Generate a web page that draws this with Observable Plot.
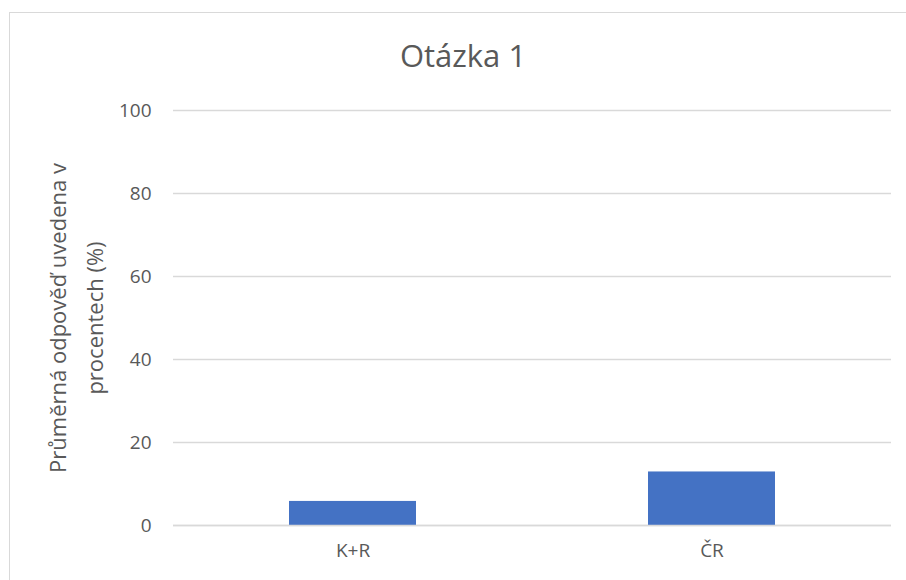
<!DOCTYPE html>
<html><head><meta charset="utf-8">
<script src="https://cdn.jsdelivr.net/npm/d3@7"></script>
<script src="https://cdn.jsdelivr.net/npm/@observablehq/plot@0.6"></script>
<style>
html,body{margin:0;padding:0;background:#fff;overflow:hidden;width:906px;height:580px;}
#frame{position:absolute;left:9px;top:12px;width:1000px;height:1000px;border:1px solid #d9d9d9;box-sizing:border-box;}
#title{position:absolute;left:0;width:926px;top:34px;text-align:center;font-family:"Open Sans",sans-serif;font-size:31px;color:#595959;line-height:normal;}
#chart{position:absolute;left:0;top:0;}
</style></head>
<body>
<div id="frame"></div>
<div id="title">Otázka 1</div>
<div id="chart"></div>
<script>
const categories = ["K+R", "ČR"];
const values = [5.8, 12.9];
const yTicks = [0, 20, 40, 60, 80, 100];
const yLabelLines = ["Průměrná odpověď uvedena v", "procentech (%)"];

const data = categories.map((c, i) => ({cat: c, val: values[i]}));
const font = "'Open Sans', sans-serif";
const chart = Plot.plot({
  width: 906, height: 580,
  marginLeft: 173, marginRight: 15, marginTop: 110, marginBottom: 55,
  style: {fontFamily: font, color: "#595959", background: "transparent"},
  x: {domain: categories, paddingInner: 0.646, paddingOuter: 0.323},
  y: {domain: [0, 100]},
  marks: [
    Plot.gridY(yTicks, {stroke: "#d9d9d9", strokeOpacity: 1, strokeWidth: 1.5}),
    Plot.barY(data, {x: "cat", y: "val", fill: "#4472c4"}),
    Plot.ruleY([0], {stroke: "#d9d9d9", strokeWidth: 1.5}),
    Plot.axisY(yTicks, {tickSize: 0, tickPadding: 22, fontSize: 19, fill: "#595959", label: null}),
    Plot.axisX({tickSize: 0, tickPadding: 18, fontSize: 19, fill: "#595959", label: null}),
    Plot.text([yLabelLines[0]], {frameAnchor: "left", text: d => d, rotate: -90, dx: -115, fontSize: 22, fill: "#595959", textAnchor: "middle", lineAnchor: "middle"}),
    Plot.text([yLabelLines[1]], {frameAnchor: "left", text: d => d, rotate: -90, dx: -78, fontSize: 22, fill: "#595959", textAnchor: "middle", lineAnchor: "middle"})
  ]
});
document.getElementById("chart").appendChild(chart);
</script>
</body></html>
